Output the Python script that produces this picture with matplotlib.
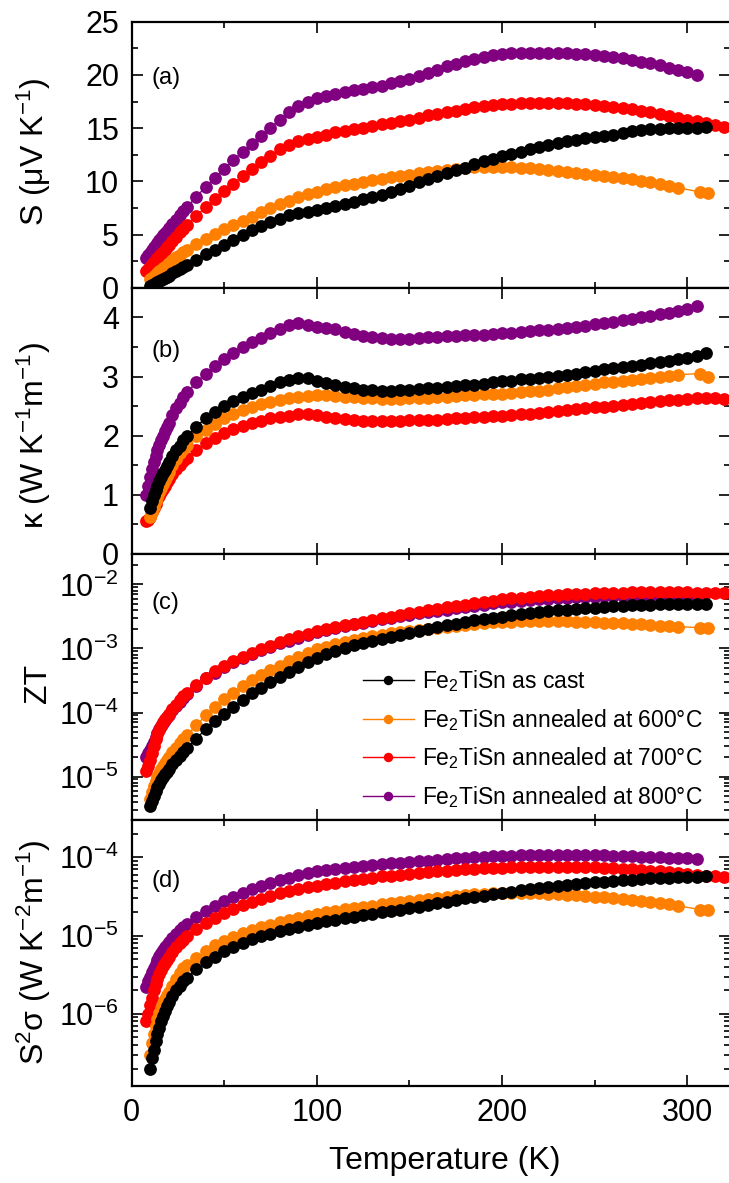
import matplotlib
matplotlib.use("Agg")
import matplotlib.pyplot as plt
from matplotlib.lines import Line2D
from matplotlib.ticker import MultipleLocator, LogLocator, NullFormatter

plt.rcParams["font.family"] = ["Liberation Sans", "DejaVu Sans"]
plt.rcParams["mathtext.fontset"] = "custom"
plt.rcParams["mathtext.rm"] = "Liberation Sans"
plt.rcParams["mathtext.it"] = "Liberation Sans:italic"
plt.rcParams["mathtext.bf"] = "Liberation Sans:bold"
plt.rcParams["mathtext.default"] = "regular"

# ---------------- measurement temperatures (K) ----------------
T_cast = list(range(10, 21)) + [22, 24, 26, 28, 30] + list(range(35, 315, 5))
T_600 = list(range(10, 21)) + [22, 24, 26, 28, 30] + list(range(35, 300, 5)) + [307, 311]
T_700 = list(range(8, 21)) + [22, 24, 26, 28, 30] + list(range(35, 330, 5))
T_800 = list(range(8, 21)) + [22, 24, 26, 28, 30] + list(range(35, 310, 5))

# ---------------- Seebeck coefficient S (uV/K) ----------------
S_cast = [0.15, 0.25, 0.35, 0.45, 0.55, 0.65, 0.75, 0.85, 0.95, 1.05, 1.15, 1.35, 1.55, 1.75, 1.95, 2.15,
          2.65, 3.15, 3.6, 4.05, 4.5, 4.95, 5.4, 5.8, 6.15, 6.5, 6.8, 7.0, 7.15, 7.3,
          7.5, 7.7, 7.9, 8.1, 8.3, 8.5, 8.75, 9.0, 9.3, 9.6, 9.9, 10.2, 10.5, 10.8, 11.05, 11.3, 11.6, 11.9, 12.15, 12.4,
          12.6, 12.8, 13.0, 13.2, 13.4, 13.6, 13.75, 13.9, 14.05, 14.2, 14.3, 14.4, 14.55, 14.7, 14.8, 14.9, 14.95, 15.0, 15.0, 15.0,
          15.0, 15.1]
S_600 = [0.8, 0.95, 1.1, 1.25, 1.4, 1.55, 1.7, 1.85, 2.0, 2.15, 2.3, 2.6, 2.85, 3.1, 3.35, 3.6,
         4.1, 4.6, 5.1, 5.5, 5.9, 6.3, 6.7, 7.1, 7.5, 7.85, 8.2, 8.5, 8.8, 9.05,
         9.3, 9.5, 9.65, 9.8, 9.95, 10.1, 10.25, 10.4, 10.5, 10.6, 10.75, 10.9, 11.0, 11.1, 11.2, 11.3, 11.35, 11.4, 11.4, 11.4,
         11.35, 11.3, 11.25, 11.2, 11.1, 11.0, 10.9, 10.8, 10.7, 10.6, 10.5, 10.4, 10.3, 10.2, 10.05, 9.9, 9.75, 9.6, 9.4,
         9.0, 8.9]
S_700 = [1.6, 1.8, 2.0, 2.2, 2.4, 2.6, 2.8, 3.0, 3.2, 3.4, 3.6, 3.8, 4.0, 4.4, 4.8, 5.2, 5.55, 5.9,
         6.75, 7.6, 8.35, 9.1, 9.8, 10.5, 11.15, 11.8, 12.4, 13.0, 13.45, 13.8, 14.0, 14.2,
         14.4, 14.6, 14.75, 14.9, 15.05, 15.2, 15.35, 15.5, 15.65, 15.8, 16.0, 16.2, 16.35, 16.5, 16.65, 16.8, 16.95, 17.1, 17.2, 17.3,
         17.3, 17.35, 17.35, 17.4, 17.4, 17.4, 17.35, 17.3, 17.25, 17.2, 17.1, 17.0, 16.9, 16.8, 16.65, 16.5, 16.3, 16.1, 15.95, 15.8,
         15.65, 15.5, 15.3, 15.1, 14.9]
S_800 = [2.8, 3.05, 3.3, 3.55, 3.8, 4.03, 4.25, 4.48, 4.7, 4.93, 5.15, 5.38, 5.6, 6.0, 6.4, 6.8, 7.2, 7.6,
         8.55, 9.5, 10.35, 11.2, 12.0, 12.8, 13.55, 14.3, 15.05, 15.8, 16.5, 17.1, 17.5, 17.8,
         18.0, 18.2, 18.4, 18.55, 18.7, 18.85, 19.0, 19.2, 19.4, 19.6, 19.9, 20.2, 20.5, 20.8, 21.05, 21.3, 21.5, 21.7, 21.85, 22.0,
         22.05, 22.1, 22.1, 22.1, 22.1, 22.1, 22.05, 22.0, 21.95, 21.9, 21.8, 21.7, 21.55, 21.4, 21.25, 21.1, 20.9, 20.7, 20.5, 20.3,
         20.0]

# ---------------- thermal conductivity kappa (W/K/m) ----------------
K_cast = [0.78, 0.9, 1.0, 1.08, 1.15, 1.23, 1.3, 1.36, 1.42, 1.49, 1.55, 1.65, 1.75, 1.83, 1.92, 2.0,
          2.15, 2.3, 2.4, 2.5, 2.58, 2.65, 2.72, 2.78, 2.84, 2.9, 2.94, 2.97, 2.97, 2.93,
          2.89, 2.85, 2.82, 2.8, 2.78, 2.77, 2.76, 2.76, 2.77, 2.78, 2.79, 2.8, 2.81, 2.83, 2.84, 2.85, 2.86, 2.88, 2.9, 2.92,
          2.93, 2.95, 2.96, 2.98, 3.0, 3.01, 3.03, 3.05, 3.08, 3.1, 3.12, 3.14, 3.16, 3.18, 3.2, 3.23, 3.25, 3.27, 3.3, 3.32,
          3.35, 3.4]
K_600 = [0.62, 0.71, 0.8, 0.89, 0.97, 1.05, 1.12, 1.19, 1.25, 1.32, 1.38, 1.5, 1.6, 1.7, 1.78, 1.85,
         2.0, 2.1, 2.2, 2.3, 2.37, 2.43, 2.48, 2.53, 2.57, 2.6, 2.63, 2.66, 2.67, 2.68,
         2.68, 2.67, 2.66, 2.65, 2.64, 2.63, 2.62, 2.62, 2.62, 2.63, 2.63, 2.64, 2.65, 2.66, 2.67, 2.68, 2.69, 2.7, 2.7, 2.71,
         2.72, 2.73, 2.75, 2.76, 2.78, 2.8, 2.82, 2.84, 2.86, 2.88, 2.9, 2.91, 2.93, 2.94, 2.96, 2.97, 2.99, 3.01, 3.03,
         3.05, 2.99]
K_700 = [0.55, 0.57, 0.62, 0.7, 0.78, 0.85, 0.92, 0.98, 1.04, 1.1, 1.15, 1.21, 1.26, 1.35, 1.43, 1.5, 1.57, 1.63,
         1.76, 1.87, 1.96, 2.04, 2.11, 2.16, 2.21, 2.25, 2.29, 2.32, 2.34, 2.36, 2.36, 2.35,
         2.32, 2.3, 2.28, 2.26, 2.25, 2.25, 2.25, 2.25, 2.25, 2.26, 2.26, 2.27, 2.27, 2.28, 2.29, 2.3, 2.31, 2.32, 2.33, 2.34,
         2.35, 2.36, 2.37, 2.39, 2.4, 2.42, 2.43, 2.45, 2.46, 2.48, 2.49, 2.5, 2.52, 2.54, 2.55, 2.57, 2.58, 2.6, 2.61, 2.62,
         2.63, 2.63, 2.63, 2.62, 2.62]
K_800 = [1.0, 1.15, 1.3, 1.43, 1.55, 1.65, 1.75, 1.84, 1.92, 2.0, 2.08, 2.15, 2.22, 2.35, 2.46, 2.56, 2.65, 2.73,
         2.9, 3.05, 3.18, 3.3, 3.4, 3.5, 3.58, 3.65, 3.73, 3.8, 3.87, 3.9, 3.87, 3.84,
         3.82, 3.8, 3.76, 3.72, 3.69, 3.67, 3.65, 3.64, 3.64, 3.64, 3.65, 3.66, 3.67, 3.68, 3.69, 3.7, 3.7, 3.71, 3.72, 3.73,
         3.74, 3.75, 3.77, 3.78, 3.79, 3.8, 3.82, 3.84, 3.86, 3.88, 3.9, 3.92, 3.95, 3.97, 4.0, 4.02, 4.05, 4.08, 4.11, 4.15,
         4.2]

# ---------------- figure of merit ZT ----------------
ZT_cast = [3.5e-6, 4.2e-6, 5.0e-6, 5.9e-6, 6.8e-6, 7.7e-6, 8.7e-6, 9.7e-6, 1.08e-5, 1.19e-5, 1.3e-5,
           1.55e-5, 1.8e-5, 2.1e-5, 2.45e-5, 2.8e-5,
           3.9e-5, 5.5e-5, 7.3e-5, 9.5e-5, 1.2e-4, 1.55e-4, 2.0e-4, 2.45e-4, 3.0e-4, 3.6e-4, 4.3e-4, 5.1e-4, 6.2e-4, 7.2e-4,
           8.2e-4, 9.2e-4, 1.02e-3, 1.12e-3, 1.22e-3, 1.32e-3, 1.42e-3, 1.52e-3, 1.62e-3, 1.72e-3, 1.85e-3, 2.0e-3, 2.15e-3, 2.3e-3, 2.45e-3, 2.6e-3, 2.75e-3, 2.9e-3, 3.0e-3, 3.15e-3,
           3.3e-3, 3.45e-3, 3.55e-3, 3.7e-3, 3.8e-3, 3.95e-3, 4.05e-3, 4.15e-3, 4.25e-3, 4.35e-3, 4.45e-3, 4.55e-3, 4.65e-3, 4.75e-3, 4.8e-3, 4.85e-3, 4.9e-3, 4.95e-3, 5.0e-3, 5.0e-3,
           5.0e-3, 5.0e-3]
ZT_600 = [4.5e-6, 5.7e-6, 7.0e-6, 8.5e-6, 1.0e-5, 1.15e-5, 1.3e-5, 1.45e-5, 1.6e-5, 1.8e-5, 2.0e-5,
          2.4e-5, 2.8e-5, 3.3e-5, 3.8e-5, 4.4e-5,
          6.3e-5, 9.0e-5, 1.2e-4, 1.6e-4, 2.0e-4, 2.6e-4, 3.2e-4, 3.9e-4, 4.6e-4, 5.4e-4, 6.3e-4, 7.3e-4, 8.5e-4, 9.7e-4,
          1.07e-3, 1.17e-3, 1.26e-3, 1.35e-3, 1.45e-3, 1.55e-3, 1.63e-3, 1.72e-3, 1.8e-3, 1.88e-3, 1.95e-3, 2.02e-3, 2.1e-3, 2.17e-3, 2.25e-3, 2.32e-3, 2.4e-3, 2.48e-3, 2.55e-3, 2.6e-3,
          2.63e-3, 2.65e-3, 2.66e-3, 2.67e-3, 2.67e-3, 2.66e-3, 2.64e-3, 2.62e-3, 2.6e-3, 2.57e-3, 2.54e-3, 2.5e-3, 2.46e-3, 2.42e-3, 2.38e-3, 2.33e-3, 2.28e-3, 2.23e-3, 2.18e-3,
          2.12e-3, 2.1e-3]
ZT_700 = [1.2e-5, 1.45e-5, 1.8e-5, 2.3e-5, 3.0e-5, 3.8e-5, 4.6e-5, 5.4e-5, 6.2e-5, 7.0e-5, 7.8e-5, 8.6e-5, 9.5e-5,
          1.12e-4, 1.32e-4, 1.55e-4, 1.78e-4, 2.0e-4,
          2.7e-4, 3.5e-4, 4.4e-4, 5.3e-4, 6.3e-4, 7.4e-4, 8.6e-4, 9.8e-4, 1.1e-3, 1.25e-3, 1.4e-3, 1.55e-3, 1.7e-3, 1.85e-3,
          2.0e-3, 2.15e-3, 2.3e-3, 2.45e-3, 2.6e-3, 2.8e-3, 2.95e-3, 3.15e-3, 3.35e-3, 3.55e-3, 3.75e-3, 3.95e-3, 4.15e-3, 4.4e-3, 4.6e-3, 4.85e-3, 5.1e-3, 5.35e-3, 5.6e-3, 5.85e-3,
          6.05e-3, 6.25e-3, 6.45e-3, 6.6e-3, 6.75e-3, 6.9e-3, 7.0e-3, 7.1e-3, 7.2e-3, 7.3e-3, 7.35e-3, 7.4e-3, 7.45e-3, 7.5e-3, 7.5e-3, 7.5e-3, 7.5e-3, 7.5e-3, 7.5e-3, 7.5e-3,
          7.45e-3, 7.4e-3, 7.35e-3, 7.3e-3, 7.25e-3]
ZT_800 = [2.0e-5, 2.3e-5, 2.6e-5, 3.0e-5, 3.5e-5, 4.1e-5, 4.8e-5, 5.5e-5, 6.2e-5, 6.9e-5, 7.6e-5, 8.4e-5, 9.2e-5,
          1.1e-4, 1.28e-4, 1.48e-4, 1.7e-4, 1.92e-4,
          2.6e-4, 3.4e-4, 4.2e-4, 5.1e-4, 6.1e-4, 7.1e-4, 8.2e-4, 9.4e-4, 1.06e-3, 1.2e-3, 1.33e-3, 1.48e-3, 1.63e-3, 1.78e-3,
          1.92e-3, 2.07e-3, 2.22e-3, 2.37e-3, 2.52e-3, 2.68e-3, 2.84e-3, 3.0e-3, 3.17e-3, 3.35e-3, 3.52e-3, 3.7e-3, 3.88e-3, 4.06e-3, 4.25e-3, 4.45e-3, 4.65e-3, 4.85e-3, 5.05e-3, 5.25e-3,
          5.4e-3, 5.55e-3, 5.7e-3, 5.85e-3, 6.0e-3, 6.1e-3, 6.2e-3, 6.3e-3, 6.4e-3, 6.45e-3, 6.5e-3, 6.55e-3, 6.6e-3, 6.65e-3, 6.7e-3, 6.7e-3, 6.7e-3, 6.7e-3, 6.7e-3, 6.7e-3,
          6.7e-3]

# ---------------- power factor S^2 sigma (W/K^2/m) ----------------
PF_cast = [2.0e-7, 2.7e-7, 3.5e-7, 4.5e-7, 5.5e-7, 6.7e-7, 8.0e-7, 9.5e-7, 1.1e-6, 1.25e-6, 1.4e-6,
           1.7e-6, 2.0e-6, 2.3e-6, 2.6e-6, 2.9e-6,
           3.7e-6, 4.6e-6, 5.4e-6, 6.3e-6, 7.2e-6, 8.1e-6, 9.0e-6, 9.8e-6, 1.06e-5, 1.14e-5, 1.22e-5, 1.3e-5, 1.38e-5, 1.45e-5,
           1.52e-5, 1.6e-5, 1.67e-5, 1.75e-5, 1.83e-5, 1.9e-5, 1.98e-5, 2.06e-5, 2.15e-5, 2.25e-5, 2.35e-5, 2.45e-5, 2.6e-5, 2.7e-5, 2.85e-5, 3.0e-5, 3.1e-5, 3.25e-5, 3.4e-5, 3.5e-5,
           3.65e-5, 3.8e-5, 3.9e-5, 4.0e-5, 4.15e-5, 4.3e-5, 4.4e-5, 4.55e-5, 4.65e-5, 4.8e-5, 4.9e-5, 5.0e-5, 5.1e-5, 5.2e-5, 5.3e-5, 5.4e-5, 5.45e-5, 5.5e-5, 5.55e-5, 5.6e-5,
           5.65e-5, 5.7e-5]
PF_600 = [3.0e-7, 4.2e-7, 5.5e-7, 7.0e-7, 8.5e-7, 1.02e-6, 1.2e-6, 1.37e-6, 1.55e-6, 1.72e-6, 1.9e-6,
          2.3e-6, 2.8e-6, 3.3e-6, 3.8e-6, 4.2e-6,
          5.2e-6, 6.4e-6, 7.5e-6, 8.6e-6, 9.7e-6, 1.08e-5, 1.18e-5, 1.28e-5, 1.38e-5, 1.48e-5, 1.58e-5, 1.7e-5, 1.8e-5, 1.9e-5,
          2.0e-5, 2.08e-5, 2.16e-5, 2.25e-5, 2.33e-5, 2.42e-5, 2.5e-5, 2.58e-5, 2.66e-5, 2.75e-5, 2.85e-5, 2.95e-5, 3.05e-5, 3.15e-5, 3.25e-5, 3.32e-5, 3.38e-5, 3.42e-5, 3.45e-5, 3.47e-5,
          3.48e-5, 3.48e-5, 3.47e-5, 3.45e-5, 3.42e-5, 3.38e-5, 3.33e-5, 3.28e-5, 3.22e-5, 3.15e-5, 3.08e-5, 3.0e-5, 2.93e-5, 2.85e-5, 2.78e-5, 2.7e-5, 2.6e-5, 2.5e-5, 2.4e-5,
          2.15e-5, 2.1e-5]
PF_700 = [8.0e-7, 1.0e-6, 1.3e-6, 1.6e-6, 2.0e-6, 2.4e-6, 2.8e-6, 3.2e-6, 3.6e-6, 4.05e-6, 4.5e-6, 4.9e-6, 5.3e-6,
          6.2e-6, 7.1e-6, 8.0e-6, 8.9e-6, 9.8e-6,
          1.2e-5, 1.45e-5, 1.7e-5, 1.95e-5, 2.2e-5, 2.45e-5, 2.7e-5, 2.95e-5, 3.2e-5, 3.45e-5, 3.7e-5, 3.95e-5, 4.15e-5, 4.35e-5,
          4.55e-5, 4.75e-5, 4.95e-5, 5.15e-5, 5.35e-5, 5.5e-5, 5.7e-5, 5.85e-5, 6.0e-5, 6.15e-5, 6.3e-5, 6.45e-5, 6.6e-5, 6.75e-5, 6.9e-5, 7.0e-5, 7.1e-5, 7.2e-5, 7.3e-5, 7.4e-5,
          7.45e-5, 7.5e-5, 7.55e-5, 7.6e-5, 7.6e-5, 7.6e-5, 7.6e-5, 7.55e-5, 7.5e-5, 7.45e-5, 7.35e-5, 7.25e-5, 7.15e-5, 7.0e-5, 6.9e-5, 6.75e-5, 6.6e-5, 6.45e-5, 6.3e-5, 6.15e-5,
          6.0e-5, 5.85e-5, 5.7e-5, 5.6e-5, 5.5e-5]
PF_800 = [2.2e-6, 2.6e-6, 3.0e-6, 3.45e-6, 3.9e-6, 4.4e-6, 4.9e-6, 5.45e-6, 6.0e-6, 6.55e-6, 7.1e-6, 7.65e-6, 8.2e-6,
          9.4e-6, 1.06e-5, 1.18e-5, 1.3e-5, 1.42e-5,
          1.75e-5, 2.05e-5, 2.4e-5, 2.75e-5, 3.1e-5, 3.5e-5, 3.9e-5, 4.3e-5, 4.7e-5, 5.1e-5, 5.5e-5, 5.9e-5, 6.3e-5, 6.6e-5,
          6.9e-5, 7.15e-5, 7.4e-5, 7.6e-5, 7.8e-5, 8.0e-5, 8.2e-5, 8.4e-5, 8.55e-5, 8.7e-5, 8.9e-5, 9.1e-5, 9.3e-5, 9.5e-5, 9.7e-5, 9.85e-5, 1.0e-4, 1.02e-4, 1.03e-4, 1.04e-4,
          1.05e-4, 1.06e-4, 1.06e-4, 1.07e-4, 1.07e-4, 1.07e-4, 1.07e-4, 1.07e-4, 1.07e-4, 1.06e-4, 1.06e-4, 1.05e-4, 1.04e-4, 1.03e-4, 1.02e-4, 1.01e-4, 1.0e-4, 9.9e-5, 9.8e-5, 9.7e-5,
          9.6e-5]

SAMPLE_LABELS = ["Fe$_2$TiSn as cast",
                 "Fe$_2$TiSn annealed at 600\u00b0C",
                 "Fe$_2$TiSn annealed at 700\u00b0C",
                 "Fe$_2$TiSn annealed at 800\u00b0C"]
COLORS = ["#000000", "#FF8000", "#FF0000", "#800080"]
PANEL_TAGS = ["(a)", "(b)", "(c)", "(d)"]
Y_LABELS = ["S (\u03bcV K$^{-1}$)",
            "\u03ba (W K$^{-1}$m$^{-1}$)",
            "ZT",
            "S$^2$\u03c3 (W K$^{-2}$m$^{-1}$)"]

temps = [T_cast, T_600, T_700, T_800]
panels = [
    [S_cast, S_600, S_700, S_800],
    [K_cast, K_600, K_700, K_800],
    [ZT_cast, ZT_600, ZT_700, ZT_800],
    [PF_cast, PF_600, PF_700, PF_800],
]

# draw order: purple at the back, black in front
zorders = [5, 4, 3, 2]

fig = plt.figure(figsize=(7.29, 11.83), dpi=100)
left, width, height = 0.1804, 0.821, 0.2249
bottoms = [0.7567, 0.5318, 0.3069, 0.0820]

TICK_FS = 22
LABEL_FS = 23

axes = []
for i in range(4):
    ax = fig.add_axes([left, bottoms[i], width, height])
    axes.append(ax)
    for series, T, c, z in zip(panels[i], temps, COLORS, zorders):
        ax.plot(T, series, "-", color=c, lw=1.0, marker="o", ms=9.2,
                mfc=c, mec=c, mew=0.0, zorder=z)
    ax.set_xlim(0, 323)
    ax.xaxis.set_major_locator(MultipleLocator(100))
    ax.xaxis.set_minor_locator(MultipleLocator(50))
    for sp in ax.spines.values():
        sp.set_linewidth(1.6)
        sp.set_zorder(10)
    ax.tick_params(which="both", direction="in", top=True, right=True,
                   width=1.2, labelsize=TICK_FS)
    ax.tick_params(which="major", length=8, pad=9)
    ax.tick_params(which="minor", length=4.2)
    if i < 3:
        ax.tick_params(labelbottom=False)
    ax.text(0.034, [0.789, 0.763, 0.816, 0.771][i], PANEL_TAGS[i],
            transform=ax.transAxes, ha="left", va="center", fontsize=17)

# (a) Seebeck coefficient
axes[0].set_ylim(0, 25)
axes[0].yaxis.set_major_locator(MultipleLocator(5))
axes[0].yaxis.set_minor_locator(MultipleLocator(2.5))

# (b) thermal conductivity
axes[1].set_ylim(0, 4.5)
axes[1].yaxis.set_major_locator(MultipleLocator(1))
axes[1].yaxis.set_minor_locator(MultipleLocator(0.5))

# (c) ZT, (d) power factor on log scales
for ax, lims in ((axes[2], (2.1e-6, 3.0e-2)), (axes[3], (1.2e-7, 3.0e-4))):
    ax.set_yscale("log")
    ax.set_ylim(*lims)
    ax.yaxis.set_major_locator(LogLocator(base=10, numticks=20))
    ax.yaxis.set_minor_locator(LogLocator(base=10, subs=range(2, 10), numticks=20))
    ax.yaxis.set_minor_formatter(NullFormatter())

label_y = [0.513, 0.444, 0.513, 0.504]
for ax, lab, ly in zip(axes, Y_LABELS, label_y):
    ax.set_ylabel(lab, fontsize=LABEL_FS)
    ax.yaxis.set_label_coords(-0.132, ly)

axes[3].set_xlabel("Temperature (K)", fontsize=LABEL_FS)
axes[3].xaxis.set_label_coords(0.524, -0.225)

handles = [Line2D([], [], color=c, lw=1.0, marker="o", ms=6.8, mfc=c, mec=c, mew=0)
           for c in COLORS]
axes[2].legend(handles, SAMPLE_LABELS, loc="upper left", bbox_to_anchor=(0.387, 0.57),
               frameon=False, fontsize=16.5, handlelength=2.2, handletextpad=0.35,
               labelspacing=0.55, borderpad=0, borderaxespad=0)

fig.savefig("out.png", dpi=100)
